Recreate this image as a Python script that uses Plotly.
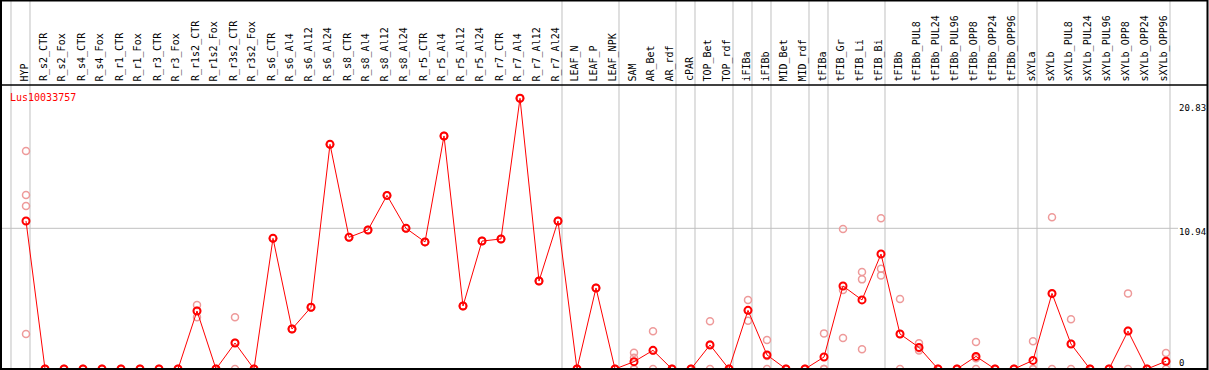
import plotly.graph_objects as go

W, H = 1209, 370

categories = ["HYP", "R_s2_CTR", "R_s2_Fox", "R_s4_CTR", "R_s4_Fox", "R_r1_CTR", "R_r1_Fox",
              "R_r3_CTR", "R_r3_Fox", "R_r1s2_CTR", "R_r1s2_Fox", "R_r3s2_CTR", "R_r3s2_Fox",
              "R_s6_CTR", "R_s6_Al4", "R_s6_Al12", "R_s6_Al24", "R_s8_CTR", "R_s8_Al4",
              "R_s8_Al12", "R_s8_Al24", "R_r5_CTR", "R_r5_Al4", "R_r5_Al12", "R_r5_Al24",
              "R_r7_CTR", "R_r7_Al4", "R_r7_Al12", "R_r7_Al24", "LEAF_N", "LEAF_P", "LEAF_NPK",
              "SAM", "AR_Bet", "AR_rdf", "cPAR", "TOP_Bet", "TOP_rdf", "iFIBa", "iFIBb",
              "MID_Bet", "MID_rdf", "tFIBa", "tFIB_Gr", "tFIB_Li", "tFIB_Bi", "tFIBb",
              "tFIBb_PUL8", "tFIBb_PUL24", "tFIBb_PUL96", "tFIBb_OPP8", "tFIBb_OPP24",
              "tFIBb_OPP96", "sXYLa", "sXYLb", "sXYLb_PUL8", "sXYLb_PUL24", "sXYLb_PUL96",
              "sXYLb_OPP8", "sXYLb_OPP24", "sXYLb_OPP96"]

mean_values = [11.51, 0, 0, 0, 0, 0, 0, 0, 0, 4.51, 0, 2.02, 0,
               10.16, 3.11, 4.80, 17.47, 10.24, 10.81, 13.50, 10.94, 9.88, 18.12, 4.90, 9.95,
               10.11, 21.05, 6.84, 11.51, 0, 6.30, 0,
               0.57, 1.45, 0, 0, 1.87, 0, 4.56, 1.09, 0, 0, 0.93, 6.45, 5.37, 8.94, 2.72,
               1.68, 0, 0, 0.98, 0, 0, 0.67, 5.88, 1.94, 0, 0, 2.95, 0, 0.60]

rep_a = [16.95, 0, 0, 0, 0, 0, 0, 0, 0, 4.98, 0, 4.02, 0,
         10.16, 3.11, 4.80, 17.47, 10.24, 10.81, 13.50, 10.94, 9.88, 18.12, 4.90, 9.95,
         10.11, 21.05, 6.84, 11.51, 0, 6.30, 0,
         1.27, 2.93, 0, 0, 3.71, 0, 5.37, 2.26, 0, 0, 2.77, 10.89, 7.54, 11.72, 5.44,
         2.00, 0, 0, 2.10, 0, 0, 2.15, 11.80, 3.86, 0, 0, 5.88, 0, 1.24]
rep_b = [13.53, 0, 0, 0, 0, 0, 0, 0, 0, 4.02, 0, 0, 0,
         10.16, 3.11, 4.80, 17.47, 10.24, 10.81, 13.50, 10.94, 9.88, 18.12, 4.90, 9.95,
         10.11, 21.05, 6.84, 11.51, 0, 6.30, 0,
         0.88, 0, 0, 0, 0, 0, 3.76, 0, 0, 0, 0, 6.14, 6.97, 7.80, 0,
         1.43, 0, 0, 0, 0, 0, 0, 0, 0, 0, 0, 0, 0, 0]
rep_c = [12.67, 0, 0, 0, 0, 0, 0, 0, 0, 4.53, 0, 2.04, 0,
         10.16, 3.11, 4.80, 17.47, 10.24, 10.81, 13.50, 10.94, 9.88, 18.12, 4.90, 9.95,
         10.11, 21.05, 6.84, 11.51, 0, 6.30, 0,
         0, 1.42, 0, 0, 1.90, 0, 4.55, 1.01, 0, 0, 0, 2.41, 1.53, 7.28, 2.72,
         1.61, 0, 0, 0.84, 0, 0, 0, 5.84, 1.96, 0, 0, 2.97, 0, 0.56]
rep_d = [2.72] + [None] * 31 + [0] + [None] * 28

separators = [-0.79, 0.21, 28.21, 31.21, 34.21, 35.21, 37.21, 38.21, 39.21,
              41.21, 42.21, 45.21, 52.21, 53.21, 60.21]
tick_values = [0, 10.94, 20.83]
tick_labels = ["0", "10.94", "20.83"]
gene_name = "Lus10033757"

# pixel mapping helpers
X0PX, XSTEP = 26.0, 19.0
Y0PX, YSCALE = 369.0, 12.86
x_range = [-X0PX / XSTEP, (W - X0PX) / XSTEP]
y_range = [(Y0PX - H) / YSCALE, Y0PX / YSCALE]


def px(xp):
    return xp / W


def py(yp):
    return 1 - yp / H


xs = list(range(len(categories)))
FONT = "DejaVu Sans Mono"
RED = "#FF0000"
PALE = "#EE9A9A"

fig = go.Figure()

for reps in (rep_a, rep_b, rep_c, rep_d):
    rx = [x for x, v in zip(xs, reps) if v is not None]
    ry = [v for v in reps if v is not None]
    fig.add_trace(go.Scatter(x=rx, y=ry, mode="markers", cliponaxis=False,
                             marker=dict(symbol="circle-open", size=7, color=PALE,
                                         line=dict(width=1.5, color=PALE)),
                             hoverinfo="skip", showlegend=False))

fig.add_trace(go.Scatter(x=xs, y=mean_values, mode="lines+markers", cliponaxis=False,
                         line=dict(color=RED, width=1),
                         marker=dict(symbol="circle-open", size=7, color=RED,
                                     line=dict(width=2, color=RED)),
                         showlegend=False))

shapes = []
# vertical group separators (full height)
for s in separators:
    shapes.append(dict(type="line", xref="x", yref="paper", x0=s, x1=s,
                       y0=py(369), y1=py(0), line=dict(color="#C0C0C0", width=1),
                       layer="below"))
# horizontal grid at middle tick
shapes.append(dict(type="line", xref="paper", yref="y", x0=px(1), x1=px(1178),
                   y0=tick_values[1], y1=tick_values[1],
                   line=dict(color="#C0C0C0", width=1), layer="below"))
# black frame
shapes.append(dict(type="rect", xref="paper", yref="paper", x0=px(1), x1=px(1207.5),
                   y0=py(369), y1=py(0.5), line=dict(color="black", width=2)))
shapes.append(dict(type="line", xref="paper", yref="paper", x0=px(1), x1=px(1207.5),
                   y0=py(85), y1=py(85), line=dict(color="black", width=1.5)))

annotations = []
for i, c in enumerate(categories):
    annotations.append(dict(x=i - 0.08, xref="x", y=py(83), yref="paper", text=c,
                            textangle=-90, showarrow=False, xanchor="center",
                            yanchor="bottom", font=dict(family=FONT, size=10, color="black")))
annotations.append(dict(x=px(8), xref="paper", y=py(97), yref="paper", text=gene_name,
                        showarrow=False, xanchor="left", yanchor="middle",
                        font=dict(family=FONT, size=10, color=RED)))
label_y = [362.5, 231.5, 108]
for lab, ly in zip(tick_labels, label_y):
    annotations.append(dict(x=px(1178), xref="paper", y=py(ly), yref="paper", text=lab,
                            showarrow=False, xanchor="left", yanchor="middle", borderpad=0,
                            font=dict(family=FONT, size=9, color="black")))

fig.update_layout(
    width=W, height=H,
    margin=dict(l=0, r=0, t=0, b=0, pad=0),
    paper_bgcolor="white", plot_bgcolor="white",
    xaxis=dict(range=x_range, visible=False, domain=[0, 1]),
    yaxis=dict(range=y_range, visible=False, domain=[0, 1]),
    shapes=shapes, annotations=annotations,
)

fig.write_html("out.html", config={"displayModeBar": False},
               post_script="document.body.style.margin='0px';document.body.style.padding='0px';")
